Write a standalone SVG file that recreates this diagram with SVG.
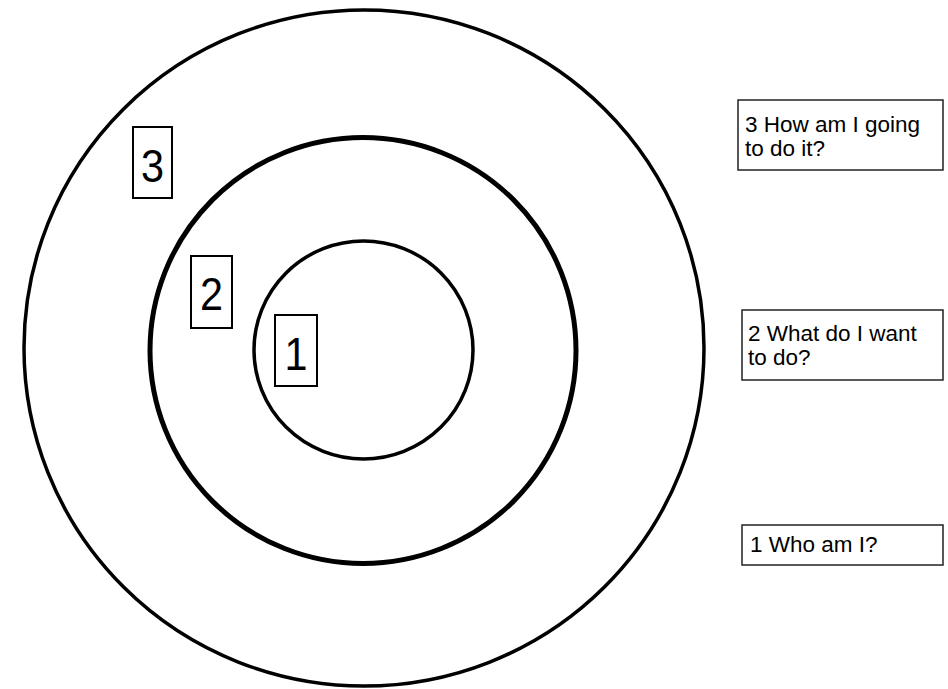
<svg xmlns="http://www.w3.org/2000/svg" width="948" height="689" viewBox="0 0 948 689">
<style>
.ring{fill:none;stroke:#000}
.dbox{fill:#fff;stroke:#000;stroke-width:2}
.digit{font-family:"Liberation Sans",Arial,sans-serif;font-size:47px;fill:#000;text-anchor:middle}
.qbox{fill:#fff;stroke:#222;stroke-width:1.5}
.q{font-family:"Liberation Sans",Arial,sans-serif;font-size:22.5px;fill:#000}
</style>
<rect width="948" height="689" fill="#fff"/>
<g id="ring3"><ellipse class="ring" cx="364" cy="348" rx="340" ry="338" stroke-width="3.5"/></g>
<g id="ring2"><circle class="ring" cx="363" cy="350.5" r="213" stroke-width="5"/></g>
<g id="ring1"><ellipse class="ring" cx="363.5" cy="350" rx="109.5" ry="109" stroke-width="3.5"/></g>
<g id="label3"><rect class="dbox" x="133" y="127" width="39" height="71"/><text class="digit" transform="translate(152.5,182) scale(0.88,1)">3</text></g>
<g id="label2"><rect class="dbox" x="191" y="256" width="41" height="72"/><text class="digit" transform="translate(211.5,310) scale(0.88,1)">2</text></g>
<g id="label1"><rect class="dbox" x="275" y="315" width="42" height="71"/><text class="digit" transform="translate(296,370) scale(0.88,1)">1</text></g>
<g id="q3"><rect class="qbox" x="738" y="100" width="205" height="70"/><text class="q" x="745" y="132">3 How am I going</text><text class="q" x="745" y="156">to do it?</text></g>
<g id="q2"><rect class="qbox" x="742" y="310" width="201" height="70"/><text class="q" x="748" y="341">2 What do I want</text><text class="q" x="748" y="365">to do?</text></g>
<g id="q1"><rect class="qbox" x="742" y="525" width="201" height="40"/><text class="q" x="750" y="552">1 Who am I?</text></g>
<g id="connectors"></g>
</svg>
